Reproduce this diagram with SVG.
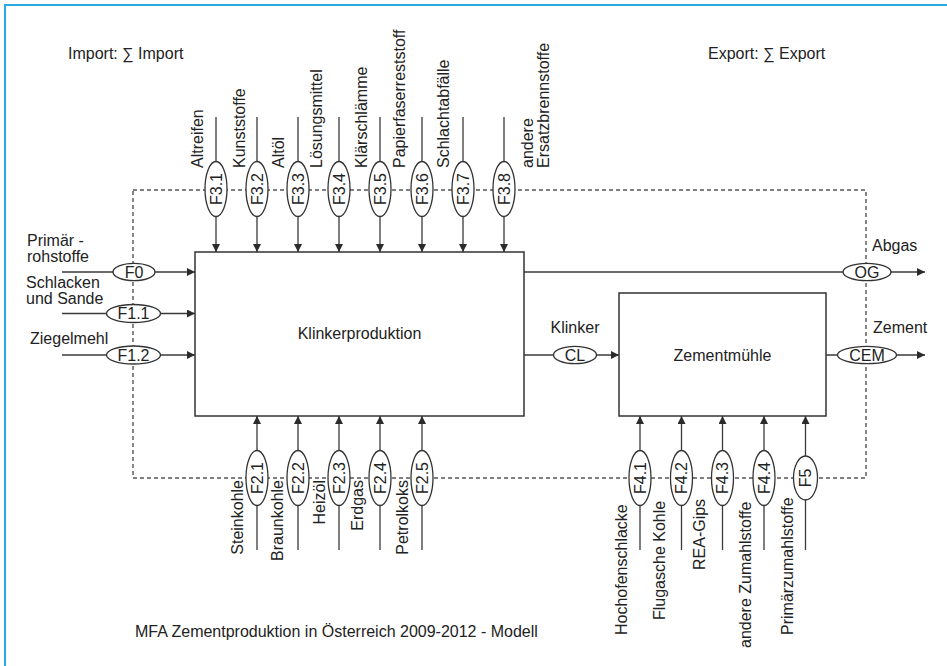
<svg xmlns="http://www.w3.org/2000/svg" width="947" height="666" viewBox="0 0 947 666">
  <defs>
    <marker id="arrow" viewBox="0 0 10 10" refX="10" refY="5" markerWidth="8" markerHeight="8" markerUnits="userSpaceOnUse" orient="auto">
      <path d="M0,0 L10,5 L0,10 Z" fill="#2b2b2b"/>
    </marker>
  </defs>
  <style>
    text { font-family: "Liberation Sans", Arial, sans-serif; font-size: 16px; fill: #222; }
    .mid { text-anchor: middle; }
    .end { text-anchor: end; }
    .proc { fill: #fff; stroke: #333; stroke-width: 1.5; }
    .flow { fill: none; stroke: #3a3a3a; stroke-width: 1.3; marker-end: url(#arrow); }
    .tag { fill: #fff; stroke: #333; stroke-width: 1.3; }
    .boundary { fill: none; stroke: #555; stroke-width: 1.4; stroke-dasharray: 4 3; }
    .frame { stroke: #29abe2; stroke-width: 2; }
  </style>

  <rect width="947" height="666" fill="#fff"/>
  <line class="frame" x1="4" y1="5" x2="947" y2="5"/>
  <line class="frame" x1="5" y1="4" x2="5" y2="666"/>

  <text x="68" y="58.5">Import: ∑ Import</text>
  <text x="708" y="58.5">Export: ∑ Export</text>

  <!-- system boundary -->
  <rect id="system-boundary" class="boundary" x="133" y="190" width="733" height="288"/>

  <!-- processes -->
  <g id="klinkerproduktion">
    <rect class="proc" x="195" y="252" width="329" height="164"/>
    <text class="mid" x="359.5" y="339">Klinkerproduktion</text>
  </g>
  <g id="zementmuehle">
    <rect class="proc" x="619" y="293" width="207" height="123"/>
    <text class="mid" x="722.5" y="361">Zementmühle</text>
  </g>

  <!-- connectors -->
  <g id="connectors">
    <!-- secondary fuels, top -->
    <line class="flow" x1="216" y1="117" x2="216" y2="252"/>
    <line class="flow" x1="257" y1="117" x2="257" y2="252"/>
    <line class="flow" x1="298" y1="117" x2="298" y2="252"/>
    <line class="flow" x1="339" y1="117" x2="339" y2="252"/>
    <line class="flow" x1="380" y1="117" x2="380" y2="252"/>
    <line class="flow" x1="422" y1="117" x2="422" y2="252"/>
    <line class="flow" x1="463" y1="117" x2="463" y2="252"/>
    <line class="flow" x1="504" y1="117" x2="504" y2="252"/>
    <!-- raw materials, left -->
    <line class="flow" x1="62" y1="272" x2="195" y2="272"/>
    <line class="flow" x1="62" y1="313.5" x2="195" y2="313.5"/>
    <line class="flow" x1="62" y1="355" x2="195" y2="355"/>
    <!-- fossil fuels, bottom -->
    <line class="flow" x1="257" y1="550" x2="257" y2="416"/>
    <line class="flow" x1="298" y1="550" x2="298" y2="416"/>
    <line class="flow" x1="339" y1="550" x2="339" y2="416"/>
    <line class="flow" x1="380" y1="550" x2="380" y2="416"/>
    <line class="flow" x1="422" y1="550" x2="422" y2="416"/>
    <!-- additives, bottom -->
    <line class="flow" x1="640" y1="550" x2="640" y2="416"/>
    <line class="flow" x1="681.5" y1="550" x2="681.5" y2="416"/>
    <line class="flow" x1="722.5" y1="550" x2="722.5" y2="416"/>
    <line class="flow" x1="764" y1="550" x2="764" y2="416"/>
    <line class="flow" x1="805.5" y1="550" x2="805.5" y2="416"/>
    <!-- outputs -->
    <line class="flow" x1="524" y1="272" x2="925" y2="272"/>
    <line class="flow" x1="524" y1="355" x2="619" y2="355"/>
    <line class="flow" x1="826" y1="355" x2="925" y2="355"/>
  </g>

  <!-- flow tags, top -->
  <g id="F3.1"><ellipse class="tag" cx="216" cy="189" rx="11" ry="27.5"/><text class="mid" transform="translate(216,189) rotate(-90)" y="5.75">F3.1</text><text transform="translate(203,168) rotate(-90)">Altreifen</text></g>
  <g id="F3.2"><ellipse class="tag" cx="257" cy="189" rx="11" ry="27.5"/><text class="mid" transform="translate(257,189) rotate(-90)" y="5.75">F3.2</text><text transform="translate(245,168) rotate(-90)">Kunststoffe</text></g>
  <g id="F3.3"><ellipse class="tag" cx="298" cy="189" rx="11" ry="27.5"/><text class="mid" transform="translate(298,189) rotate(-90)" y="5.75">F3.3</text><text transform="translate(283.5,168) rotate(-90)">Altöl</text></g>
  <g id="F3.4"><ellipse class="tag" cx="339" cy="189" rx="11" ry="27.5"/><text class="mid" transform="translate(339,189) rotate(-90)" y="5.75">F3.4</text><text transform="translate(322,168) rotate(-90)">Lösungsmittel</text></g>
  <g id="F3.5"><ellipse class="tag" cx="380" cy="189" rx="11" ry="27.5"/><text class="mid" transform="translate(380,189) rotate(-90)" y="5.75">F3.5</text><text transform="translate(366.5,168) rotate(-90)">Klärschlämme</text></g>
  <g id="F3.6"><ellipse class="tag" cx="422" cy="189" rx="11" ry="27.5"/><text class="mid" transform="translate(422,189) rotate(-90)" y="5.75">F3.6</text><text transform="translate(405,168) rotate(-90)">Papierfaserreststoff</text></g>
  <g id="F3.7"><ellipse class="tag" cx="463" cy="189" rx="11" ry="27.5"/><text class="mid" transform="translate(463,189) rotate(-90)" y="5.75">F3.7</text><text transform="translate(448.5,168) rotate(-90)">Schlachtabfälle</text></g>
  <g id="F3.8"><ellipse class="tag" cx="504" cy="189" rx="11" ry="27.5"/><text class="mid" transform="translate(504,189) rotate(-90)" y="5.75">F3.8</text><text transform="translate(532.5,168) rotate(-90)">andere</text><text transform="translate(548.5,168) rotate(-90)">Ersatzbrennstoffe</text></g>

  <!-- flow tags, left -->
  <g id="F0"><ellipse class="tag" cx="134" cy="272" rx="21" ry="8.7"/><text class="mid" x="134" y="277.75">F0</text><text x="27" y="246">Primär -</text><text x="27" y="262">rohstoffe</text></g>
  <g id="F1.1"><ellipse class="tag" cx="133.5" cy="313.5" rx="27" ry="9"/><text class="mid" x="133.5" y="319.25">F1.1</text><text x="26" y="288">Schlacken</text><text x="26" y="304">und Sande</text></g>
  <g id="F1.2"><ellipse class="tag" cx="133.5" cy="355" rx="27" ry="9"/><text class="mid" x="133.5" y="360.75">F1.2</text><text x="30" y="343.5">Ziegelmehl</text></g>

  <!-- flow tags, bottom: fuels -->
  <g id="F2.1"><ellipse class="tag" cx="257" cy="478" rx="11" ry="27.5"/><text class="mid" transform="translate(257,478) rotate(-90)" y="5.75">F2.1</text><text class="end" transform="translate(243.3,480) rotate(-90)">Steinkohle</text></g>
  <g id="F2.2"><ellipse class="tag" cx="298" cy="478" rx="11" ry="27.5"/><text class="mid" transform="translate(298,478) rotate(-90)" y="5.75">F2.2</text><text class="end" transform="translate(283.3,480) rotate(-90)">Braunkohle</text></g>
  <g id="F2.3"><ellipse class="tag" cx="339" cy="478" rx="11" ry="27.5"/><text class="mid" transform="translate(339,478) rotate(-90)" y="5.75">F2.3</text><text class="end" transform="translate(325,480) rotate(-90)">Heizöl</text></g>
  <g id="F2.4"><ellipse class="tag" cx="380" cy="478" rx="11" ry="27.5"/><text class="mid" transform="translate(380,478) rotate(-90)" y="5.75">F2.4</text><text class="end" transform="translate(362.5,480) rotate(-90)">Erdgas</text></g>
  <g id="F2.5"><ellipse class="tag" cx="422" cy="478" rx="11" ry="27.5"/><text class="mid" transform="translate(422,478) rotate(-90)" y="5.75">F2.5</text><text class="end" transform="translate(408,480) rotate(-90)">Petrolkoks</text></g>

  <!-- flow tags, bottom: additives -->
  <g id="F4.1"><ellipse class="tag" cx="640" cy="478" rx="11" ry="27.5"/><text class="mid" transform="translate(640,478) rotate(-90)" y="5.75">F4.1</text><text transform="translate(626.5,635) rotate(-90)">Hochofenschlacke</text></g>
  <g id="F4.2"><ellipse class="tag" cx="681.5" cy="478" rx="11" ry="27.5"/><text class="mid" transform="translate(681.5,478) rotate(-90)" y="5.75">F4.2</text><text transform="translate(665,620) rotate(-90)">Flugasche Kohle</text></g>
  <g id="F4.3"><ellipse class="tag" cx="722.5" cy="478" rx="11" ry="27.5"/><text class="mid" transform="translate(722.5,478) rotate(-90)" y="5.75">F4.3</text><text transform="translate(704.5,570) rotate(-90)">REA-Gips</text></g>
  <g id="F4.4"><ellipse class="tag" cx="764" cy="478" rx="11" ry="27.5"/><text class="mid" transform="translate(764,478) rotate(-90)" y="5.75">F4.4</text><text transform="translate(750.5,648) rotate(-90)">andere Zumahlstoffe</text></g>
  <g id="F5"><ellipse class="tag" cx="805.5" cy="478" rx="12" ry="22"/><text class="mid" transform="translate(805.5,478) rotate(-90)" y="5.75">F5</text><text transform="translate(793,635) rotate(-90)">Primärzumahlstoffe</text></g>

  <!-- flow tags, outputs -->
  <g id="OG"><ellipse class="tag" cx="867" cy="272" rx="24" ry="8.7"/><text class="mid" x="867" y="277.75">OG</text><text x="872" y="251">Abgas</text></g>
  <g id="CL"><ellipse class="tag" cx="575" cy="355" rx="21.5" ry="8.7"/><text class="mid" x="575" y="360.75">CL</text><text class="mid" x="575" y="333">Klinker</text></g>
  <g id="CEM"><ellipse class="tag" cx="867" cy="355" rx="29.5" ry="8.7"/><text class="mid" x="867" y="360.75">CEM</text><text x="873" y="333">Zement</text></g>

  <text x="135" y="637">MFA Zementproduktion in Österreich 2009-2012 - Modell</text>
</svg>
